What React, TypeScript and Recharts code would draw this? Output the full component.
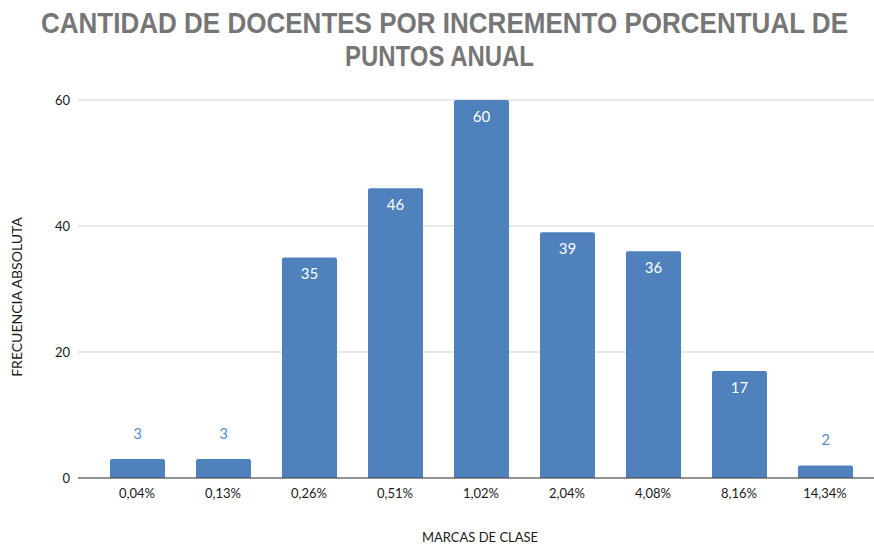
import React from "react";
import { BarChart, Bar, XAxis, YAxis, CartesianGrid, LabelList } from "recharts";

const categories = ["0,04%", "0,13%", "0,26%", "0,51%", "1,02%", "2,04%", "4,08%", "8,16%", "14,34%"];
const frequencies = [3, 3, 35, 46, 60, 39, 36, 17, 2];
const yTicks = [0, 20, 40, 60];
const titleLines = ["CANTIDAD DE DOCENTES POR INCREMENTO PORCENTUAL DE", "PUNTOS ANUAL"];

const data = categories.map((c, i) => ({ name: c, value: frequencies[i] }));

const BAR_COLOR = "#4f81bd";
const FONT = "Lato, 'Noto Sans', sans-serif";
const TITLE_SCALE_Y = 1.2;

const renderLabel = (props: any) => {
  const { x, y, width, height, value } = props;
  const inside = height > 30;
  const cx = x + width / 2;
  return (
    <text
      x={cx}
      y={inside ? y + 18 : y - 24}
      textAnchor="middle"
      dominantBaseline="middle"
      fill={inside ? "#ffffff" : "#5b8fd1"}
      fontSize={15}
      fontFamily={FONT}
    >
      {value}
    </text>
  );
};

export default function App() {
  return (
    <div style={{ position: "absolute", left: 0, top: 0, width: 874, height: 544, background: "#fff" }}>
      <div style={{ position: "absolute", left: 0, top: 0 }}>
        <BarChart
          width={874}
          height={544}
          data={data}
          margin={{ top: 100, right: 0, bottom: 46, left: 48 }}
          barCategoryGap={0}
        >
          <CartesianGrid vertical={false} stroke="#d0d0d0" strokeWidth={1} />
          <XAxis
            dataKey="name"
            axisLine={{ stroke: "#404040", strokeWidth: 1 }}
            tickLine={false}
            tickSize={0}
            tickMargin={11}
            padding={{ left: 16, right: 6 }}
            tick={{ fill: "#1a1a1a", fontSize: 13, fontFamily: FONT }}
            interval={0}
            height={20}
            label={{
              value: "MARCAS DE CLASE",
              position: "insideBottom",
              offset: -44,
              fill: "#1a1a1a",
              fontSize: 13,
              fontFamily: FONT,
              dx: 4,
            }}
          />
          <YAxis
            domain={[0, 60]}
            ticks={yTicks}
            axisLine={false}
            tickLine={false}
            tickSize={0}
            tickMargin={8}
            width={30}
            tick={{ fill: "#1a1a1a", fontSize: 13, fontFamily: FONT }}
            label={{
              value: "FRECUENCIA ABSOLUTA",
              angle: -90,
              position: "insideLeft",
              offset: -31,
              dy: 8,
              fill: "#1a1a1a",
              fontSize: 14,
              fontFamily: FONT,
              style: { textAnchor: "middle" },
            }}
          />
          <Bar dataKey="value" fill={BAR_COLOR} barSize={55} radius={[2, 2, 0, 0]} isAnimationActive={false}>
            <LabelList dataKey="value" content={renderLabel} />
          </Bar>
        </BarChart>
      </div>
      <svg width={874} height={90} style={{ position: "absolute", left: 0, top: 0 }}>
        <g transform={`scale(1, ${TITLE_SCALE_Y})`}>
          <text
            x={444.5}
            y={33 / TITLE_SCALE_Y}
            textAnchor="middle"
            fontFamily="'Liberation Sans', Arial, sans-serif"
            fontWeight="bold"
            fontSize={25}
            fill="#767676"
            textLength={807}
            lengthAdjust="spacingAndGlyphs"
          >
            {titleLines[0]}
          </text>
          <text
            x={439.5}
            y={66 / TITLE_SCALE_Y}
            textAnchor="middle"
            fontFamily="'Liberation Sans', Arial, sans-serif"
            fontWeight="bold"
            fontSize={25}
            fill="#767676"
            textLength={189}
            lengthAdjust="spacingAndGlyphs"
          >
            {titleLines[1]}
          </text>
        </g>
      </svg>
    </div>
  );
}
